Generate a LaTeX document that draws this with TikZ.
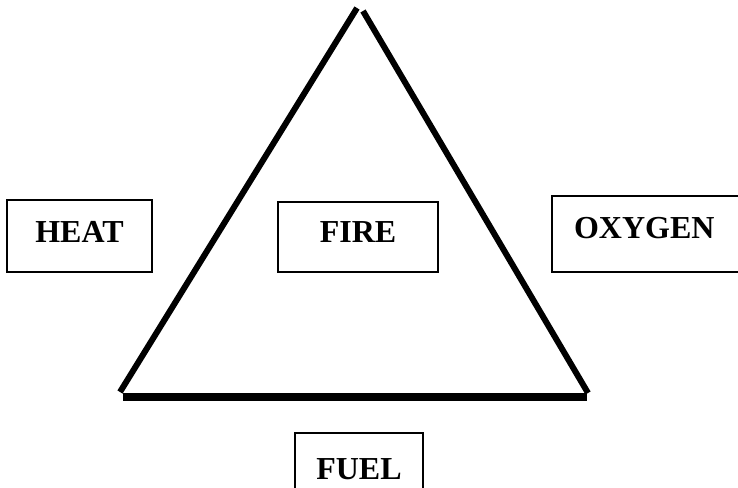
\documentclass[tikz,border=0pt]{standalone}
\usepackage{fontspec}
\setmainfont{Liberation Serif}
\begin{document}
\begin{tikzpicture}[x=0.5pt,y=-0.5pt]
        \tikzstyle{block} = [rectangle, draw=black, line width=1pt, text=black, font=\fontsize{16}{19}\selectfont\bfseries, inner sep=0pt]
        \tikzstyle{side} = [draw=black, line width=3pt]
        \useasboundingbox (0,0) rectangle (738,487);
        \clip (0,0) rectangle (738,487);
        % triangle corners
        \coordinate (topl) at (357,8);
        \coordinate (topr) at (363,11);
        \coordinate (botl) at (120,392);
        \coordinate (botr) at (588,393);
        \coordinate (basel) at (123,397);
        \coordinate (baser) at (587,397);
        \draw[side] (botl) to (topl);
        \draw[side] (topr) to (botr);
        \draw[side, line width=3.75pt] (basel) to (baser);
        % the four boxes
        \node[block, minimum width=72.5pt, minimum height=36pt, text depth=4pt] (heat) at (79.5,236) {HEAT};
        \node[block, minimum width=80pt, minimum height=35pt, text depth=5pt] (fire) at (358,237) {FIRE};
        \node[block, anchor=west, inner xsep=11pt, text width=98pt, align=left, minimum height=38pt, text depth=6pt] (oxygen) at (551,234) {OXYGEN};
        \node[block, minimum width=64pt, minimum height=40pt, text depth=4pt] (fuel) at (359,473) {FUEL};
        %\draw[side] (fuel) to (fire);
    \end{tikzpicture}
\end{document}
